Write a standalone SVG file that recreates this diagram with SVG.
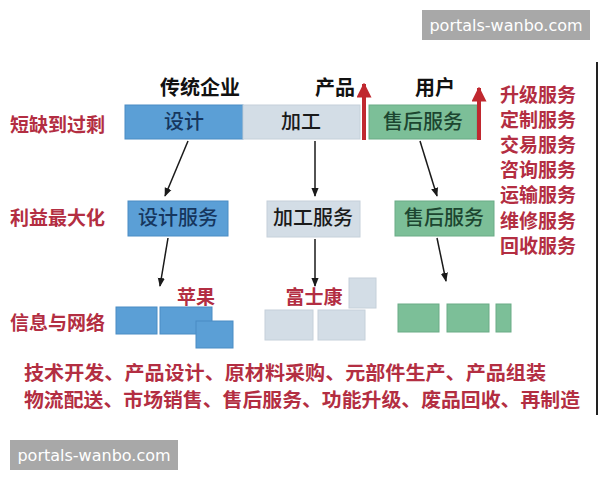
<svg xmlns="http://www.w3.org/2000/svg" width="600" height="480" viewBox="0 0 600 480">
<defs>
<marker id="ah" viewBox="0 0 10 10" refX="9" refY="5" markerWidth="9" markerHeight="9" orient="auto" markerUnits="userSpaceOnUse">
<path d="M0,1 L10,5 L0,9 Z" fill="#1a1a1a"/>
</marker>
<marker id="rh" viewBox="0 0 10 10" refX="9" refY="5" markerWidth="15" markerHeight="15" orient="auto" markerUnits="userSpaceOnUse">
<path d="M0,0 L10,5 L0,10 Z" fill="#c0282f"/>
</marker>
<style>
text{font-family:"Noto Sans CJK SC","Noto Sans",sans-serif;font-weight:700}
.red{fill:#b32e42;font-size:19px}
.blk{fill:#111;font-size:20px}
.blue{fill:#5b9fd6;stroke:#4a8cc4;stroke-width:1}
.gray{fill:#d3dde6;stroke:#c5d0da;stroke-width:1}
.green{fill:#7cbf98;stroke:#6aab86;stroke-width:1}
.bt{font-size:20px;font-weight:500}
.wm{fill:#a8a8a8}
.wmt{fill:#fff;font-family:"DejaVu Sans",sans-serif;font-weight:400;font-size:16px}
.conn line{stroke:#1a1a1a;stroke-width:1.5;marker-end:url(#ah)}
</style>
</defs>
<rect width="600" height="480" fill="#fff"/>
<line x1="597" y1="62" x2="597" y2="415" stroke="#222" stroke-width="2"/>

<g id="watermark-top"><rect class="wm" x="422" y="10" width="168" height="30"/><text class="wmt" x="506" y="31" text-anchor="middle">portals-wanbo.com</text></g>
<g id="watermark-bottom"><rect class="wm" x="10" y="440" width="168" height="30"/><text class="wmt" x="94" y="461" text-anchor="middle">portals-wanbo.com</text></g>

<g id="header-labels">
<text class="blk" x="200" y="95" text-anchor="middle">传统企业</text>
<text class="blk" x="335" y="95" text-anchor="middle">产品</text>
<text class="blk" x="435" y="95" text-anchor="middle">用户</text>
</g>

<g id="row-labels">
<text class="red" x="10" y="132" font-size="20">短缺到过剩</text>
<text class="red" x="10" y="225" font-size="20">利益最大化</text>
<text class="red" x="10" y="330" font-size="20">信息与网络</text>
</g>

<g id="services-list">
<text class="red" x="500" y="102">升级服务</text>
<text class="red" x="500" y="127">定制服务</text>
<text class="red" x="500" y="152">交易服务</text>
<text class="red" x="500" y="177">咨询服务</text>
<text class="red" x="500" y="202">运输服务</text>
<text class="red" x="500" y="228">维修服务</text>
<text class="red" x="500" y="253">回收服务</text>
</g>

<g id="node-design"><rect class="blue" x="125" y="105" width="118" height="34"/><text class="bt" x="184" y="129" text-anchor="middle" fill="#16365e">设计</text></g>
<g id="node-process"><rect class="gray" x="243" y="105" width="117" height="34"/><text class="bt" x="301" y="129" text-anchor="middle" fill="#1a1a1a">加工</text></g>
<g id="node-aftersale"><rect class="green" x="369" y="105" width="108" height="34"/><text class="bt" x="423" y="129" text-anchor="middle" fill="#1c4630">售后服务</text></g>

<g id="node-design-service"><rect class="blue" x="128" y="201" width="100" height="35"/><text class="bt" x="178" y="225" text-anchor="middle" fill="#16365e">设计服务</text></g>
<g id="node-process-service"><rect class="gray" x="267" y="201" width="93" height="36"/><text class="bt" x="313" y="225" text-anchor="middle" fill="#1a1a1a">加工服务</text></g>
<g id="node-aftersale-service"><rect class="green" x="395" y="201" width="99" height="35"/><text class="bt" x="444" y="225" text-anchor="middle" fill="#1c4630">售后服务</text></g>

<g id="node-apple">
<rect class="blue" x="116" y="307" width="41" height="27"/>
<rect class="blue" x="160" y="307" width="52" height="27"/>
<rect class="blue" x="196" y="321" width="37" height="27"/>
<text class="red" x="196" y="304" text-anchor="middle">苹果</text>
</g>
<g id="node-foxconn">
<rect class="gray" x="265" y="310" width="48" height="30"/>
<rect class="gray" x="318" y="310" width="47" height="30"/>
<rect class="gray" x="349" y="278" width="27" height="30"/>
<text class="red" x="314" y="304" text-anchor="middle">富士康</text>
</g>
<g id="node-green-blocks">
<rect class="green" x="398" y="304" width="41" height="28"/>
<rect class="green" x="447" y="304" width="42" height="28"/>
<rect class="green" x="496" y="304" width="15" height="28"/>
</g>

<g id="connectors" class="conn">
<line x1="188" y1="141" x2="165" y2="196"/>
<line x1="168" y1="238" x2="160" y2="286"/>
<line x1="315" y1="141" x2="315" y2="196"/>
<line x1="315" y1="239" x2="315" y2="286"/>
<line x1="420" y1="141" x2="437" y2="196"/>
<line x1="437" y1="238" x2="446" y2="281"/>
</g>
<g id="red-arrows">
<line x1="364" y1="140" x2="364" y2="84" stroke="#c0282f" stroke-width="4" marker-end="url(#rh)"/>
<line x1="479" y1="140" x2="479" y2="88" stroke="#c0282f" stroke-width="4" marker-end="url(#rh)"/>
</g>

<g id="value-chain">
<text class="red" x="24" y="380" textLength="522" lengthAdjust="spacingAndGlyphs">技术开发、产品设计、原材料采购、元部件生产、产品组装</text>
<text class="red" x="24" y="407" textLength="556" lengthAdjust="spacingAndGlyphs">物流配送、市场销售、售后服务、功能升级、废品回收、再制造</text>
</g>
</svg>
